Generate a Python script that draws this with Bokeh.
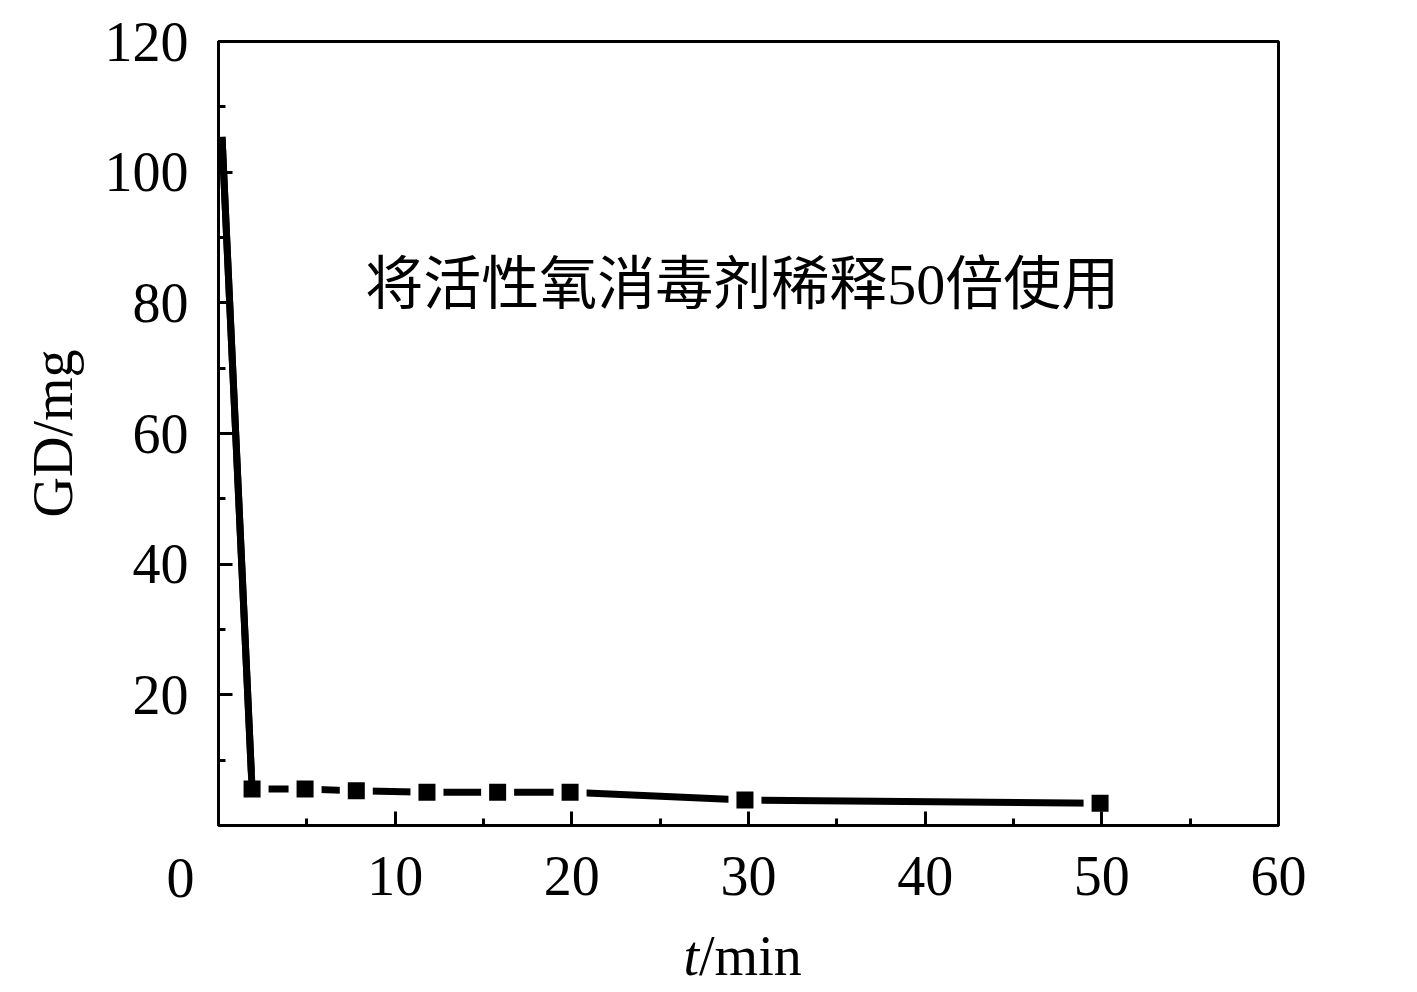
from bokeh.plotting import figure
from bokeh.models import Range1d, FixedTicker, Label
from bokeh.embed import file_html
from bokeh.resources import INLINE

# data
t_min = [0.2, 1.9, 4.9, 7.8, 11.8, 15.8, 19.9, 29.8, 49.9]
gd_mg = [105.4, 5.6, 5.6, 5.3, 5.1, 5.1, 5.1, 3.9, 3.4]
x_ticks = [0, 10, 20, 30, 40, 50, 60]
x_minor = [5, 15, 25, 35, 45, 55]
y_ticks = [20, 40, 60, 80, 100, 120]
y_minor = [10, 30, 50, 70, 90, 110]
note_text = "将活性氧消毒剂稀释50倍使用"
y_title = "GD/mg"
x_title_var = "t"
x_title_unit = "/min"
origin_label = "0"

SERIF = "Liberation Serif"
FS = "56px"

p = figure(width=1401, height=992, output_backend="svg", toolbar_location=None,
           x_range=Range1d(0, 60), y_range=Range1d(0, 120),
           min_border_left=218, min_border_right=123,
           min_border_top=41, min_border_bottom=167)
p.grid.visible = False
p.background_fill_color = "white"
p.border_fill_color = "white"
p.outline_line_color = "black"
p.outline_line_width = 3

for ax in (p.xaxis[0], p.yaxis[0]):
    ax.axis_line_width = 3
    ax.axis_line_color = "black"
    ax.major_tick_line_width = 3
    ax.minor_tick_line_width = 3
    ax.major_tick_in = 14
    ax.major_tick_out = 0
    ax.minor_tick_in = 7
    ax.minor_tick_out = 0
    ax.major_label_text_font = SERIF
    ax.major_label_text_font_size = FS
    ax.major_label_text_color = "black"

p.xaxis.ticker = FixedTicker(ticks=x_ticks, minor_ticks=x_minor)
p.xaxis.major_label_overrides = {0: ""}
p.xaxis.major_label_standoff = 31

p.yaxis.ticker = FixedTicker(ticks=y_ticks, minor_ticks=y_minor)
p.yaxis.major_label_standoff = 30
p.yaxis.axis_label = y_title
p.yaxis.axis_label_text_font = SERIF
p.yaxis.axis_label_text_font_size = FS
p.yaxis.axis_label_text_font_style = "normal"
p.yaxis.axis_label_text_color = "black"
p.yaxis.axis_label_standoff = 18

p.line(t_min, gd_mg, line_width=7, line_color="black")
p.scatter(t_min[1:], gd_mg[1:], marker="square", size=25,
          fill_color="black", line_color="white", line_width=8)
# steep first segment joins its marker without a gap
p.line(t_min[:2], gd_mg[:2], line_width=7, line_color="black")

# labels outside the frame live in side panels (not clipped)
p.add_layout(Label(x=-2.15, y=-8.1, text=origin_label, text_font=SERIF, text_font_size=FS,
                   text_color="black", text_align="center", text_baseline="alphabetic"), "below")
p.add_layout(Label(x=27.2, y=-20.0, text=x_title_var, text_font=SERIF, text_font_size=FS,
                   text_color="black", text_font_style="italic",
                   text_align="right", text_baseline="alphabetic"), "right")
p.add_layout(Label(x=27.2, y=-20.0, text=x_title_unit, text_font=SERIF, text_font_size=FS,
                   text_color="black", text_align="left", text_baseline="alphabetic"), "right")

p.add_layout(Label(x=8.3, y=82.8, text=note_text, text_color="black",
                   text_font="'Liberation Serif', 'Noto Sans CJK SC'", text_font_size="58px",
                   text_align="left", text_baseline="middle"))

open("out.html", "w").write(file_html(p, INLINE))
